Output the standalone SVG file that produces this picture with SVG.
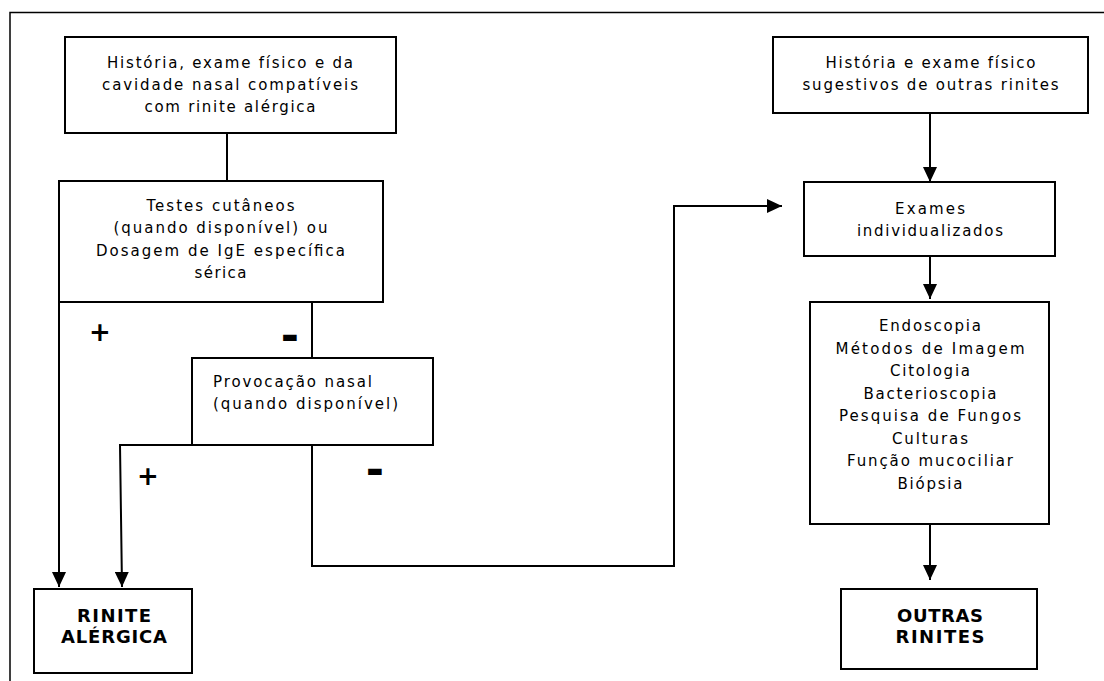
<svg xmlns="http://www.w3.org/2000/svg" width="1104" height="681" viewBox="0 0 1104 681">
<style>
.box{fill:#fff;stroke:#000;stroke-width:2}
.t{font-family:"DejaVu Sans",Verdana,sans-serif;font-size:15px;fill:#000;text-anchor:middle}
.tl{font-family:"DejaVu Sans",Verdana,sans-serif;font-size:15px;fill:#000}
.b{font-family:"DejaVu Sans",Verdana,sans-serif;font-size:18px;font-weight:bold;fill:#000;text-anchor:middle}
.sg{font-family:"DejaVu Sans",Verdana,sans-serif;font-weight:bold;fill:#000;text-anchor:middle}
.c{fill:none;stroke:#000;stroke-width:2}
</style>
<defs>
<marker id="arr" viewBox="0 0 15 14" refX="15" refY="7" markerWidth="15" markerHeight="14" markerUnits="userSpaceOnUse" orient="auto">
<path d="M0,0 L15,7 L0,14 z" fill="#000"/>
</marker>
</defs>
<rect width="1104" height="681" fill="#fff"/>
<g id="frame">
<path d="M1104,12.5 H10 V681" fill="none" stroke="#000" stroke-width="1.5"/>
</g>
<g id="connectors">
<path class="c" d="M227,133 V181"/>
<path class="c" d="M59,302 V587" marker-end="url(#arr)"/>
<path class="c" d="M312,302 V358"/>
<path class="c" d="M192,445 H120 L122,587" marker-end="url(#arr)"/>
<path class="c" d="M312,445 V566 H674 V206 H782" marker-end="url(#arr)"/>
<path class="c" d="M930,113 V182" marker-end="url(#arr)"/>
<path class="c" d="M930,256 V299" marker-end="url(#arr)"/>
<path class="c" d="M930,524 V580" marker-end="url(#arr)"/>
<text class="sg" x="100" y="341" font-size="26">+</text>
<text class="sg" x="148" y="485" font-size="26">+</text>
<text class="sg" x="290" y="351" font-size="44">-</text>
<text class="sg" x="375" y="485" font-size="44">-</text>
</g>
<g id="n1">
<rect class="box" x="65" y="37" width="331" height="96"/>
<text class="t" x="230" y="68" textLength="246">História, exame físico e da</text>
<text class="t" x="230" y="90" textLength="256">cavidade nasal compatíveis</text>
<text class="t" x="230" y="112" textLength="171">com rinite alérgica</text>
</g>
<g id="n2">
<rect class="box" x="59" y="181" width="324" height="121"/>
<text class="t" x="220.5" y="211" textLength="148">Testes cutâneos</text>
<text class="t" x="220.5" y="233" textLength="214">(quando disponível) ou</text>
<text class="t" x="220.5" y="256" textLength="249">Dosagem de IgE específica</text>
<text class="t" x="220.5" y="278" textLength="52">sérica</text>
</g>
<g id="n3">
<rect class="box" x="192" y="358" width="241" height="87"/>
<text class="tl" x="213" y="387" textLength="159">Provocação nasal</text>
<text class="tl" x="213" y="409" textLength="185">(quando disponível)</text>
</g>
<g id="n4">
<rect class="box" x="34" y="589" width="158" height="84"/>
<text class="b" x="114" y="622" textLength="74">RINITE</text>
<text class="b" x="114" y="643" textLength="106">ALÉRGICA</text>
</g>
<g id="n5">
<rect class="box" x="773" y="37" width="315" height="76"/>
<text class="t" x="930.5" y="68" textLength="210">História e exame físico</text>
<text class="t" x="930.5" y="90" textLength="256">sugestivos de outras rinites</text>
</g>
<g id="n6">
<rect class="box" x="804" y="182" width="251" height="74"/>
<text class="t" x="930" y="214" textLength="70">Exames</text>
<text class="t" x="930" y="236" textLength="146">individualizados</text>
</g>
<g id="n7">
<rect class="box" x="810" y="302" width="239" height="222"/>
<text class="t" x="930" y="331" textLength="102">Endoscopia</text>
<text class="t" x="930" y="353.5" textLength="189">Métodos de Imagem</text>
<text class="t" x="930" y="376" textLength="80">Citologia</text>
<text class="t" x="930" y="398.5" textLength="133">Bacterioscopia</text>
<text class="t" x="930" y="421" textLength="182">Pesquisa de Fungos</text>
<text class="t" x="930" y="443.5" textLength="76">Culturas</text>
<text class="t" x="930" y="466" textLength="166">Função mucociliar</text>
<text class="t" x="930" y="488.5" textLength="65">Biópsia</text>
</g>
<g id="n8">
<rect class="box" x="841" y="589" width="196" height="80"/>
<text class="b" x="940" y="622" textLength="86">OUTRAS</text>
<text class="b" x="940" y="643" textLength="89">RINITES</text>
</g>
</svg>
